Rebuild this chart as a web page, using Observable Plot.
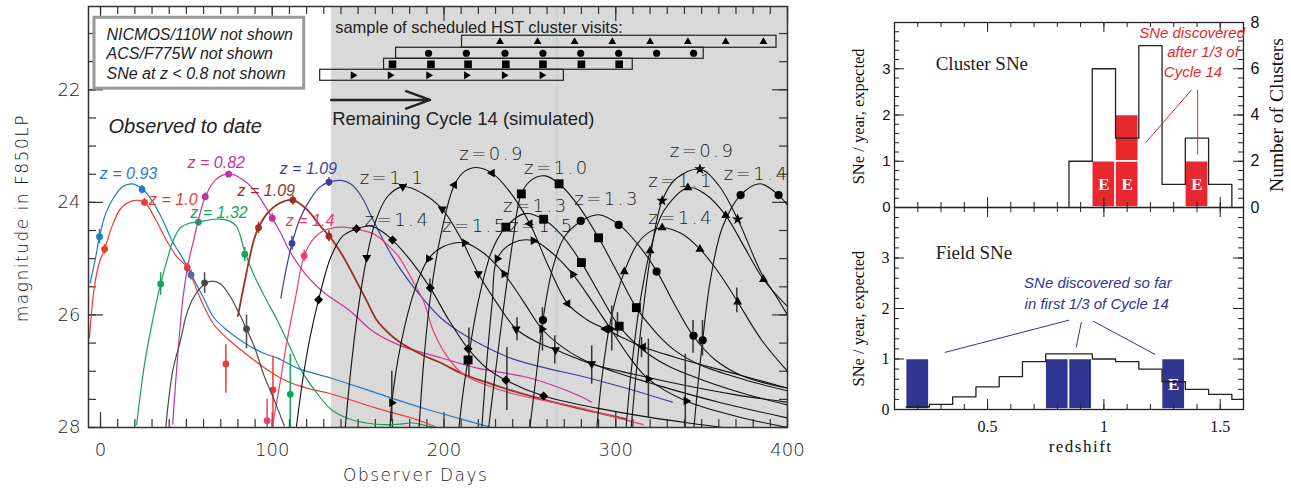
<!DOCTYPE html>
<html><head><meta charset="utf-8">
<script src="https://cdn.jsdelivr.net/npm/d3@7"></script>
<script src="https://cdn.jsdelivr.net/npm/@observablehq/plot@0.6"></script>
<style>
body{margin:0;background:#fff;}
#wrap{position:relative;width:1291px;height:490px;overflow:hidden;background:#fff;}
#wrap svg{position:absolute;}
</style></head><body><div id="wrap"></div>
<script>
// ================= LEFT PANEL DATA (day, magnitude) =================
const dayTicks = [0, 100, 200, 300, 400];
const magTicks = [22, 24, 26, 28];
const shadeFrom = 134.5, shadeTo = 400;
const visitLine = 265.7;

// observed light curves (coloured)
const lineBlue093 = [[-6,25.43],[-3,25.0],[-0.6,24.61],[3,24.2],[8,23.9],[13,23.72],[18,23.67],[24,23.75],[30,23.97],[36,24.3],[42,24.7],[48,25.0],[53,25.29],[60,25.7],[66,26.05],[74,26.28],[85,26.52],[95,26.68],[104,26.78],[115,26.95],[134,27.12],[160,27.38],[186,27.64],[210,27.85],[228,28.0]];
const lineRed10 = [[-6.4,26.4],[-4,25.6],[-1,25.1],[2.4,24.83],[7,24.4],[12,24.1],[19,23.97],[25.6,24.0],[32,24.3],[38,24.65],[44,24.95],[50.5,25.16],[58,25.7],[66,26.17],[75,26.45],[85,26.7],[96,26.95],[108,27.17],[120,27.3],[134,27.4],[160,27.65],[186,27.88],[196,28.0]];
const lineGreen132 = [[21,27.95],[26,26.8],[31,26.0],[35,25.45],[39,25.0],[42,24.7],[46.5,24.45],[52,24.37],[57,24.35],[66,24.3],[74,24.32],[79,24.42],[84,24.88],[89,25.27],[96,25.7],[103,26.1],[110,26.55],[116,26.94],[125,27.35],[134,27.67],[145,27.85],[155,27.92],[165,27.95],[174,27.94],[182,27.92],[190,27.97],[196,28.0]];
const lineMagenta082 = [[42,27.94],[45,26.7],[48,25.7],[51,25.1],[54,24.7],[57.5,24.25],[61,23.9],[67,23.6],[75,23.49],[83,23.6],[90,23.8],[100,24.28],[105,24.55],[110,24.86],[120,25.3],[130,25.6],[145,25.92],[159,26.3],[175,26.55],[198,26.76],[220,26.95],[250,27.12],[279,27.44],[286,27.55]];
const lineBrown109 = [[80,26.02],[84,25.4],[89,24.7],[92,24.45],[97,24.2],[104,24.02],[112,23.96],[120,24.12],[128,24.42],[134,24.63],[141,24.95],[149,25.4],[155,25.75],[161,26.1],[168,26.33],[175,26.5],[188,26.72],[198,26.85],[211,27.05],[225,27.2],[240,27.35],[270,27.6],[306,27.85]];
const lineNavy109 = [[105,25.7],[108,25.2],[111.5,24.73],[116,24.3],[122,23.95],[128,23.72],[133,23.64],[140,23.61],[146,23.68],[152,23.9],[159,24.33],[166,24.75],[174,25.16],[186,25.65],[198,26.05],[211,26.34],[225,26.58],[240,26.78],[260,26.95],[279,27.08],[300,27.25],[333,27.55]];
const linePink14 = [[100,28],[104,27.3],[109,26.4],[113.5,25.7],[118.6,24.95],[124,24.65],[130,24.5],[141,24.44],[150,24.48],[159,24.56],[167,24.75],[174,24.98],[181,25.35],[188,25.75],[194,26.3],[201,26.7],[211,27.05],[225,27.25],[240,27.4],[260,27.53],[279,27.65],[300,27.82],[316,27.95]];
const lineGray = [[38,28],[42,27.0],[46.5,26.46],[50,26.0],[54,25.7],[60.6,25.45],[65,25.4],[70,25.45],[76,25.7],[85,26.25],[90,26.6],[95,27.06],[101,27.5],[107,27.97]];

// observed points: day, mag, err low, err high
const ptsBlue093 = [[-0.6,24.61,24.48,24.74],[24.2,23.77,23.7,23.85],[52.7,25.29,25.2,25.38]];
const ptsRed10 = [[2.4,24.83,24.75,24.92],[25.6,24.0,23.93,24.07],[50.5,25.16,25.08,25.25],[73,26.87,26.53,27.39],[100.4,27.33,26.73,28.0]];
const ptsGreen132 = [[35,25.45,25.25,25.65],[57,24.35,24.28,24.42],[84,24.92,24.8,25.05],[110.5,27.41,26.7,28.0]];
const ptsMagenta082 = [[61,23.9,23.83,23.97],[74.6,23.5,23.45,23.55],[100,24.28,24.2,24.36]];
const ptsBrown109 = [[92,24.45,24.35,24.55],[112,23.96,23.88,24.05],[133,24.6,24.5,24.7]];
const ptsNavy109 = [[111.5,24.73,24.6,24.85],[133,23.64,23.56,23.72]];
const ptsPink14 = [[97,27.88,27.5,28.0],[118.6,24.95,24.85,25.05]];
const ptsGray = [[60.6,25.43,25.25,25.62],[85,26.25,26.0,26.6]];

const obsLabelText = ["z = 0.93","z = 1.0","z = 1.32","z = 0.82","z = 1.09","z = 1.09","z = 1.4"];
const obsLabelDay  = [16.3, 42.4, 69, 67.4, 96.5, 121, 122];
const obsLabelMag  = [23.49, 23.96, 24.19, 23.3, 23.8, 23.4, 24.33];

// simulated light curves (black)
const simA = [[114,28],[118,27.1],[122,26.4],[127,25.73],[134,24.98],[141,24.6],[149,24.47],[157,24.42],[163,24.5],[170,24.67],[181,25.05],[192,25.52],[203,26.1],[214,26.6],[225,26.95],[236,27.16],[258,27.44],[290,27.66],[320,27.82],[350,27.95],[362,28]];
const mkA = [[127,25.73],[149,24.47],[170,24.67],[192,25.52],[214,26.6],[236,27.16],[258,27.44]];
const simB = [[142.5,28],[146,26.9],[150,25.9],[155,24.98],[160,24.35],[167,23.9],[176,23.72],[188,23.85],[199,24.12],[210,24.65],[220,25.27],[231,25.8],[242,26.25],[254,26.48],[265,26.62],[286,26.87],[310,27.05],[340,27.25],[370,27.42],[400,27.55]];
const mkB = [[155,24.98],[176,23.72],[199,24.12],[220,25.27],[242,26.25],[265,26.62],[286,26.87]];
const simC = [[168.6,28],[169.6,27.56],[175,26.5],[183,25.55],[191,25.0],[200,24.78],[212,24.72],[223,24.9],[235,25.27],[246,25.75],[257,26.25],[268,26.55],[280,26.78],[300,27.02],[330,27.3],[360,27.55],[400,27.83]];
const mkC = [[169.6,27.56],[191,25.0],[212,24.72],[235,25.27],[257,26.25]];
const simD = [[185.5,28],[188,26.9],[192,25.7],[198,24.6],[206,23.69],[212,23.45],[219,23.38],[228,23.48],[238,23.8],[250,24.38],[261,25.15],[272,25.8],[283,26.08],[294,26.25],[305,26.42],[316,26.57],[340,26.8],[370,27.05],[400,27.3]];
const mkD = [[206,23.69],[228,23.48],[250,24.38],[272,25.8],[294,26.25],[316,26.57]];
const simE = [[226,28],[230,27.0],[235,25.8],[240,24.7],[245,23.85],[251,23.6],[259,23.53],[267,23.67],[278,24.05],[290,24.63],[301,25.25],[312,25.87],[323,26.3],[334,26.62],[350,26.9],[375,27.15],[400,27.35]];
const mkE = [[245,23.85],[267,23.67],[290,24.63],[312,25.87]];
const simF = [[208.7,28],[211,27.4],[214,26.8],[220,25.75],[228,24.85],[236,24.44],[247,24.2],[258,24.3],[269,24.6],[280,25.07],[291,25.65],[302,26.2],[315,26.6],[330,26.9],[350,27.15],[375,27.4],[400,27.6]];
const mkF = [[214,26.8],[236,24.44],[258,24.3],[280,25.07],[302,26.2]];
const simG = [[222,28],[225,26.8],[228,25.8],[231,25.0],[240,24.72],[252,24.68],[263,24.9],[275,25.28],[286,25.75],[297,26.25],[308,26.75],[319,27.14],[341,27.53],[370,27.8],[400,28]];
const mkG = [[231,25.0],[252,24.68],[275,25.28],[297,26.25],[319,27.14],[341,27.53]];
const simH = [[250,28],[254,27.0],[257.6,26.09],[263,25.2],[270,24.62],[280,24.33],[290,24.22],[302,24.4],[313,24.75],[324,25.23],[334,25.8],[345,26.37],[358,26.8],[375,27.1],[400,27.3]];
const mkH = [[257.6,26.09],[279.6,24.33],[301.7,24.4],[323.8,25.23],[345.3,26.37]];
const simI = [[345.5,28],[348,27.2],[350.6,26.45],[355,25.4],[362,24.45],[372.7,23.87],[384,23.67],[394.8,23.87],[400,24.05]];
const mkI = [[350.6,26.45],[372.7,23.87],[394.8,23.87]];
const simJ = [[309,28],[312,27.0],[316,25.9],[321,24.8],[327,23.97],[335,23.58],[349,23.41],[360,23.7],[371,24.3],[385,25.27],[393,25.65],[400,26.0]];
const mkJ = [[327,23.97],[349,23.41],[371,24.3]];
const simK = [[306,28],[309,27.0],[314,25.8],[320,24.86],[328,24.15],[342,23.74],[352,23.85],[364,24.23],[375,24.8],[386,25.37],[400,25.85]];
const mkK = [[320,24.86],[342,23.74],[364,24.23],[386,25.37]];
const simL = [[289,28],[292,27.1],[297,26.1],[305,25.23],[313,24.72],[320,24.52],[327,24.45],[338,24.55],[349,24.83],[360,25.25],[371,25.77],[385,26.45],[400,27.0]];
const mkL = [[305,25.23],[327,24.45],[349,24.83],[371,25.77]];
const simErr = [[169.6,27.0,27.9],[191.8,25.36,25.57],[214.5,26.23,27.1],[236.6,26.58,27.7],[242.5,26.05,26.46],[257.3,25.87,26.64],[264.5,26.37,26.87],[286,26.55,27.23],[297.7,25.84,26.64],[301,25.96,26.4],[315,26.4,26.76],[319,26.43,27.83],[340.5,26.7,28],[345,26.1,26.68],[350.5,26.1,26.73],[370.5,25.52,25.96]];

const simLabelText = ["z=1.1","z=1.4","z=0.9","z=1.0","z=1.3","z=1.5","z=1.5","z=1.3","z=0.9","z=1.1","z=1.4","z=1.4"];
const simLabelDay  = [170, 173, 228, 265.7, 253.5, 218, 257, 295, 350.6, 338, 338, 382];
const simLabelMag  = [23.58, 24.31, 23.14, 23.4, 24.06, 24.42, 24.42, 23.94, 23.1, 23.62, 24.29, 23.5];

// schedule of cluster visits (rows: up-triangle, circle, square, right-triangle)
const schedBoxStart = [210.5, 172.1, 165.1, 127.9];
const schedBoxEnd   = [393.6, 351.2, 309.9, 269.8];
const schedRowTop   = [21.04, 21.253, 21.449, 21.644];
const schedRowBot   = [21.253, 21.449, 21.644, 21.84];
const schedUpDays     = [232.6,254.5,276,298,320,342,364,386];
const schedCircleDays = [191,213,235.5,257.6,279.6,301.7,323.8,345.3];
const schedSquareDays = [170,192.4,214,236,257.6,280,302];
const schedRightDays  = [147,168.6,191,213,235,257];

const noteLines = ["NICMOS/110W not shown","ACS/F775W not shown","SNe at z < 0.8 not shown"];
const noteMags = [21.02, 21.36, 21.72];

// ================= RIGHT PANEL DATA =================
const zBinWidth = 0.1;
const clusterBinStart = [0.85,0.95,1.05,1.15,1.25,1.35,1.45];
const clusterRate     = [1, 3, 1.5, 3.5, 0.5, 1.5, 0.5];
const clusterFoundBin   = [0.95, 1.05, 1.05, 1.35];
const clusterFoundLevel = [0, 0, 1, 0];
const clusterFoundType  = ["E", "E", "", "E"];
const clusterAxisLabels = [0, 2, 4, 6, 8];

const fieldBinStart = [0.15,0.25,0.35,0.45,0.55,0.65,0.75,0.85,0.95,1.05,1.15,1.25,1.35,1.45,1.55];
const fieldRate     = [0.05,0.1,0.25,0.45,0.65,0.95,1.1,1.1,1.0,0.95,0.8,0.55,0.4,0.3,0.2];
const fieldFoundBin   = [0.15, 0.75, 0.85, 1.25];
const fieldFoundLevel = [0, 0, 0, 0];
const fieldFoundType  = ["", "", "", "E"];

// ================= helpers =================
const X = d => d[0], Y = d => d[1];
function triSym(angle) {
  return {draw(ctx, size) {
    const R = Math.sqrt(size / 1.299);
    for (let k = 0; k < 3; k++) {
      const a = angle + k * 2 * Math.PI / 3;
      const px = R * Math.cos(a), py = R * Math.sin(a);
      k ? ctx.lineTo(px, py) : ctx.moveTo(px, py);
    }
    ctx.closePath();
  }};
}
const symUp = triSym(-Math.PI / 2), symDown = triSym(Math.PI / 2), symLeft = triSym(Math.PI), symRight = triSym(0);
const symDiamond = {draw(ctx, size) { const h = Math.sqrt(size / 2); ctx.moveTo(0, -h); ctx.lineTo(h, 0); ctx.lineTo(0, h); ctx.lineTo(-h, 0); ctx.closePath(); }};

function edgeTicks(xs, ys, fw, fh, len, stroke, sw) {
  return [
    Plot.tickX(xs, {x: d => d, insetTop: fh - len, stroke, strokeWidth: sw}),
    Plot.tickX(xs, {x: d => d, insetBottom: fh - len, stroke, strokeWidth: sw}),
    Plot.tickY(ys, {y: d => d, insetRight: fw - len, stroke, strokeWidth: sw}),
    Plot.tickY(ys, {y: d => d, insetLeft: fw - len, stroke, strokeWidth: sw})
  ];
}

// ================= LEFT PANEL =================
const obsSeries = [
  {line: lineBlue093, pts: ptsBlue093, color: "#1f7cc7", w: 1.2},
  {line: lineRed10, pts: ptsRed10, color: "#ee3b2e", w: 1.2},
  {line: lineGreen132, pts: ptsGreen132, color: "#15a35a", w: 1.2},
  {line: lineMagenta082, pts: ptsMagenta082, color: "#c2339f", w: 1.2},
  {line: lineBrown109, pts: ptsBrown109, color: "#9d2f1f", w: 1.8},
  {line: lineNavy109, pts: ptsNavy109, color: "#3b3f9f", w: 1.2},
  {line: linePink14, pts: ptsPink14, color: "#e53f76", w: 1.2},
  {line: lineGray, pts: ptsGray, color: "#4a4a4a", w: 1.2}
];
const simSeries = [
  {line: simA, mk: mkA, sym: symDiamond, r: 3.6},
  {line: simB, mk: mkB, sym: symDown, r: 3.3},
  {line: simC, mk: mkC, sym: symRight, r: 3.3},
  {line: simD, mk: mkD, sym: symLeft, r: 3.3},
  {line: simE, mk: mkE, sym: "square", r: 5.0},
  {line: simF, mk: mkF, sym: "square", r: 5.0},
  {line: simG, mk: mkG, sym: symRight, r: 3.3},
  {line: simH, mk: mkH, sym: "circle", r: 4.1},
  {line: simI, mk: mkI, sym: "circle", r: 4.1},
  {line: simJ, mk: mkJ, sym: "star", r: 3.6},
  {line: simK, mk: mkK, sym: symUp, r: 3.3},
  {line: simL, mk: mkL, sym: symUp, r: 3.3}
];

const LFW = 699, LFH = 421;
const sans = "Liberation Sans, Arial, sans-serif";
const thin = "DejaVu Sans, sans-serif";
const serif = "Liberation Serif, Times New Roman, serif";
const narrow = "Liberation Sans Narrow, Arial Narrow, Liberation Sans, sans-serif";

const leftMarks = [
  Plot.rect([[shadeFrom, shadeTo]], {x1: X, x2: Y, fill: "#d9d9d9"}),
  Plot.ruleX([visitLine], {x: d => d, stroke: "#c6cdd6", strokeWidth: 1.5}),
  ...edgeTicks(d3.range(0, 401, 10), d3.range(21, 28.01, 0.5), LFW, LFH, 8, "#333", 1.2),
  ...edgeTicks(dayTicks, magTicks, LFW, LFH, 15, "#333", 1.2),
  // legend box
  Plot.rect([[-3.5, 118.6, 20.72, 21.98]], {x1: d => d[0], x2: d => d[1], y1: d => d[2], y2: d => d[3], fill: "white", stroke: "#9a9a9a", strokeWidth: 3}),
  Plot.text(noteLines, {x: () => 3.5, y: (d, i) => noteMags[i], text: d => d, textAnchor: "start", fontFamily: sans, fontStyle: "italic", fontSize: 16, fontWeight: 400, fill: "#222"}),
  // schedule
  Plot.text(["sample of scheduled HST cluster visits:"], {x: () => 136.6, y: () => 20.9, text: d => d, textAnchor: "start", fontFamily: sans, fontSize: 16.5, fontWeight: 400, fill: "#222"}),
  Plot.rect(schedBoxStart, {x1: d => d, x2: (d, i) => schedBoxEnd[i], y1: (d, i) => schedRowTop[i], y2: (d, i) => schedRowBot[i], fill: "none", stroke: "#222", strokeWidth: 1.2}),
  Plot.dot(schedUpDays, {x: d => d, y: () => (schedRowTop[0] + schedRowBot[0]) / 2, symbol: symUp, r: 2.9, fill: "#000"}),
  Plot.dot(schedCircleDays, {x: d => d, y: () => (schedRowTop[1] + schedRowBot[1]) / 2, symbol: "circle", r: 3.6, fill: "#000"}),
  Plot.dot(schedSquareDays, {x: d => d, y: () => (schedRowTop[2] + schedRowBot[2]) / 2, symbol: "square", r: 4.3, fill: "#000"}),
  Plot.dot(schedRightDays, {x: d => d, y: () => (schedRowTop[3] + schedRowBot[3]) / 2, symbol: symRight, r: 2.9, fill: "#000"}),
  // arrow + captions
  Plot.arrow([[134.3, 22.18, 191.9, 22.18]], {x1: d => d[0], y1: d => d[1], x2: d => d[2], y2: d => d[3], stroke: "#222", strokeWidth: 2.4, headLength: 16, headAngle: 40}),
  Plot.text(["Remaining Cycle 14 (simulated)"], {x: () => 134.9, y: () => 22.52, text: d => d, textAnchor: "start", fontFamily: sans, fontSize: 18.5, fontWeight: 400, fill: "#222"}),
  Plot.text(["Observed to date"], {x: () => 4.65, y: () => 22.66, text: d => d, textAnchor: "start", fontFamily: sans, fontStyle: "italic", fontSize: 20, fontWeight: 400, fill: "#222"}),
  // observed curves
  ...obsSeries.flatMap(s => [
    Plot.line(s.line, {x: X, y: Y, stroke: s.color, strokeWidth: s.w, curve: "catmull-rom", clip: true}),
    Plot.ruleX(s.pts, {x: d => d[0], y1: d => d[2], y2: d => d[3], stroke: s.color, strokeWidth: 1.5, clip: true}),
    Plot.dot(s.pts, {x: X, y: Y, r: 3.4, fill: s.color})
  ]),
  ...obsLabelText.map((t, i) => Plot.text([t], {x: () => obsLabelDay[i], y: () => obsLabelMag[i], text: d => d, fill: obsSeries[i].color, fontFamily: sans, fontStyle: "italic", fontSize: 16, fontWeight: 400})),
  // simulated curves
  ...simSeries.map(s => Plot.line(s.line, {x: X, y: Y, stroke: "#111", strokeWidth: 1.1, curve: "catmull-rom", clip: true})),
  Plot.ruleX(simErr, {x: d => d[0], y1: d => d[1], y2: d => d[2], stroke: "#333", strokeWidth: 1.5, clip: true}),
  ...simSeries.map(s => Plot.dot(s.mk, {x: X, y: Y, symbol: s.sym, r: s.r, fill: "#000"})),
  Plot.text(simLabelText, {x: (d, i) => simLabelDay[i], y: (d, i) => simLabelMag[i], text: d => d, fill: "#1a1a1a", fontFamily: thin, fontSize: 18, fontWeight: 300}),
  Plot.frame({stroke: "#333", strokeWidth: 1.5}),
  Plot.text(["magnitude in F850LP"], {y: () => 24.28, text: d => d, frameAnchor: "left", textAnchor: "middle", lineAnchor: "middle", rotate: -90, dx: -66, fontFamily: thin, fontSize: 17, fontWeight: 300, fill: "#1a1a1a"}),
  Plot.text(["Observer Days"], {x: () => 183.5, text: d => d, frameAnchor: "bottom", textAnchor: "middle", lineAnchor: "middle", dy: 48, fontFamily: thin, fontSize: 17, fontWeight: 300, fill: "#1a1a1a"})
];

const leftSvg = Plot.plot({
  width: 820, height: 490,
  marginLeft: 88, marginRight: 33, marginTop: 6, marginBottom: 63,
  x: {domain: [-7, 400], ticks: dayTicks, tickSize: 0, tickPadding: 16, label: null},
  y: {domain: [28.0, 20.52], ticks: magTicks, tickSize: 0, tickPadding: 8, label: null},
  style: {fontFamily: thin, fontSize: "18px", fontWeight: 300, background: "transparent", color: "#1a1a1a"},
  marks: leftMarks
});

// ================= RIGHT TOP PANEL =================
const RFW = 349, RTH = 185, RBH = 202;
const zMinor = d3.range(2, 16).map(i => i / 10), zMajor = [0.5, 1, 1.5];
const vMinor = d3.range(0, 21).map(i => i / 5), vMajor = [0, 1, 2, 3, 4];
const redC = "#e8282f", blueC = "#2e3692";

const clusterStep = [{z: clusterBinStart[0], v: 0}, ...clusterBinStart.map((z, i) => ({z, v: clusterRate[i]})), {z: clusterBinStart[clusterBinStart.length - 1] + zBinWidth, v: 0}];
const fieldStep = [...fieldBinStart.map((z, i) => ({z, v: fieldRate[i]})), {z: 1.6, v: fieldRate[fieldRate.length - 1]}];

const topSvg = Plot.plot({
  width: 471, height: 215, marginLeft: 74, marginRight: 48, marginTop: 22, marginBottom: 8,
  x: {domain: [0.1, 1.6], axis: null},
  y: {domain: [0, 4], ticks: [0, 1, 2, 3], tickFormat: d => String(d), tickSize: 0, tickPadding: 4, label: null},
  style: {fontFamily: sans, fontSize: "15px", background: "transparent", color: "#111"},
  marks: [
    Plot.rect(clusterFoundBin, {x1: d => d, x2: d => d + zBinWidth, y1: (d, i) => clusterFoundLevel[i], y2: (d, i) => clusterFoundLevel[i] + 1, fill: redC, stroke: "white", strokeWidth: 1.5}),
    Plot.text(clusterFoundBin, {x: d => d + zBinWidth / 2, y: (d, i) => clusterFoundLevel[i] + 0.5, text: (d, i) => clusterFoundType[i], fill: "white", fontWeight: "bold", fontFamily: serif, fontSize: 17}),
    Plot.line(clusterStep, {x: "z", y: "v", curve: "step-after", stroke: "#222", strokeWidth: 1.3}),
    ...edgeTicks(zMinor, vMinor, RFW, RTH, 5, "#222", 1),
    ...edgeTicks(zMajor, vMajor, RFW, RTH, 10, "#222", 1),
    Plot.frame({stroke: "#222", strokeWidth: 1.3}),
    Plot.text(clusterAxisLabels, {y: d => d / 2, text: d => String(d), frameAnchor: "right", textAnchor: "start", dx: 7, fontSize: 16}),
    Plot.text(["Number of Clusters"], {y: () => 2, text: d => d, frameAnchor: "right", textAnchor: "middle", lineAnchor: "middle", rotate: -90, dx: 33, fontFamily: serif, fontSize: 19.5}),
    Plot.text(["SNe / year, expected"], {y: () => 1.97, text: d => d, frameAnchor: "left", textAnchor: "middle", lineAnchor: "middle", rotate: -90, dx: -36, fontFamily: serif, fontSize: 16.5}),
    Plot.text(["Cluster SNe"], {x: () => 0.277, y: () => 3.11, text: d => d, textAnchor: "start", fontFamily: serif, fontSize: 19, fill: "#222"}),
    Plot.text(["SNe discovered", "after 1/3 of", "Cycle 14"], {x: (d, i) => [1.379, 1.426, 1.383][i], y: (d, i) => [3.76, 3.35, 2.92][i], text: d => d, fill: redC, fontStyle: "italic", fontFamily: narrow, fontSize: 15}),
    Plot.link([[1.377, 2.545, 1.181, 1.41], [1.403, 2.545, 1.403, 1.146]], {x1: d => d[0], y1: d => d[1], x2: d => d[2], y2: d => d[3], stroke: redC, strokeWidth: 1})
  ]
});

// ================= RIGHT BOTTOM PANEL =================
const botSvg = Plot.plot({
  width: 471, height: 290, marginLeft: 74, marginRight: 48, marginTop: 7, marginBottom: 81,
  x: {domain: [0.1, 1.6], ticks: [0.5, 1, 1.5], tickFormat: d => String(d), tickSize: 0, tickPadding: 11, label: null},
  y: {domain: [0, 4], ticks: [0, 1, 2, 3], tickFormat: d => String(d), tickSize: 0, tickPadding: 5, label: null},
  style: {fontFamily: serif, fontSize: "16px", background: "transparent", color: "#111"},
  marks: [
    Plot.rect(fieldFoundBin, {x1: d => d, x2: d => d + zBinWidth, y1: (d, i) => fieldFoundLevel[i], y2: (d, i) => fieldFoundLevel[i] + 1, fill: blueC, stroke: "white", strokeWidth: 1.5}),
    Plot.text(fieldFoundBin, {x: d => d + zBinWidth / 2, y: (d, i) => fieldFoundLevel[i] + 0.5, text: (d, i) => fieldFoundType[i], fill: "white", fontWeight: "bold", fontFamily: serif, fontSize: 17}),
    Plot.line(fieldStep, {x: "z", y: "v", curve: "step-after", stroke: "#222", strokeWidth: 1.3}),
    ...edgeTicks(zMinor, vMinor, RFW, RBH, 5, "#222", 1),
    ...edgeTicks(zMajor, vMajor, RFW, RBH, 10, "#222", 1),
    Plot.frame({stroke: "#222", strokeWidth: 1.3}),
    Plot.text(["SNe / year, expected"], {y: () => 1.8, text: d => d, frameAnchor: "left", textAnchor: "middle", lineAnchor: "middle", rotate: -90, dx: -36, fontFamily: serif, fontSize: 16.5}),
    Plot.text(["Field SNe"], {x: () => 0.277, y: () => 3.1, text: d => d, textAnchor: "start", fontFamily: serif, fontSize: 19, fill: "#222"}),
    Plot.text(["redshift"], {x: () => 0.9, text: d => d, frameAnchor: "bottom", textAnchor: "middle", lineAnchor: "middle", dy: 37, fontFamily: serif, fontSize: 17}),
    Plot.text(["SNe discovered so far", "in first 1/3 of Cycle 14"], {x: (d, i) => [0.974, 0.969][i], y: (d, i) => [2.505, 2.09][i], text: d => d, fill: blueC, fontStyle: "italic", fontFamily: narrow, fontSize: 15}),
    Plot.link([[0.851, 1.77, 0.316, 1.13], [0.903, 1.73, 0.881, 1.23], [0.954, 1.75, 1.22, 1.09]], {x1: d => d[0], y1: d => d[1], x2: d => d[2], y2: d => d[3], stroke: blueC, strokeWidth: 1})
  ]
});

const wrap = document.getElementById("wrap");
leftSvg.style.left = "0px"; leftSvg.style.top = "0px";
topSvg.style.left = "820px"; topSvg.style.top = "0px";
botSvg.style.left = "820px"; botSvg.style.top = "200px";
wrap.append(leftSvg, topSvg, botSvg);

// letter spacing for the Hershey-like labels
d3.select(leftSvg).selectAll("text").filter(function() { return /^z=/.test(this.textContent); }).attr("letter-spacing", "2.5px");
d3.select(leftSvg).selectAll("text").filter(function() { return /^(Observer Days|magnitude in F850LP)$/.test(this.textContent); }).attr("letter-spacing", "1.5px");
d3.select(botSvg).selectAll("text").filter(function() { return this.textContent === "redshift"; }).attr("letter-spacing", "1.5px");
</script></body></html>
